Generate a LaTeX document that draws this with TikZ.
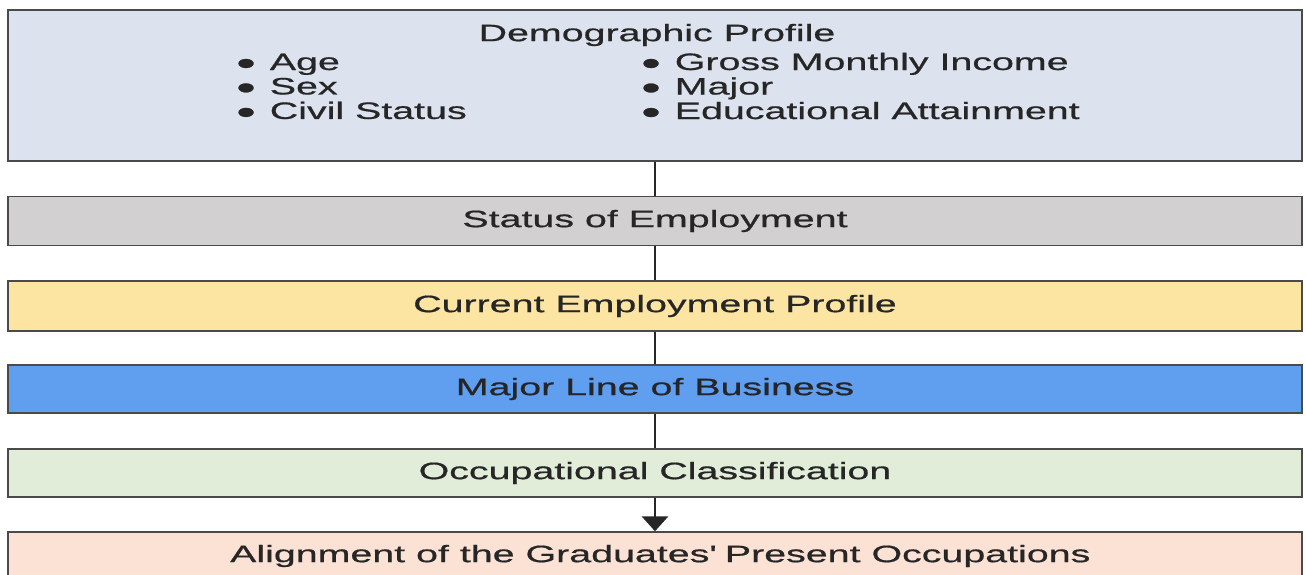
\documentclass[tikz,border=0pt]{standalone}
\usepackage{fontspec}
\setmainfont[FakeStretch=1.66, FakeBold=0.7]{Liberation Sans}
\usepackage{tikz}
\usepackage{xcolor}
\usetikzlibrary{arrows, arrows.meta, positioning}

\definecolor{demoblue}{HTML}{DCE3EF}
\definecolor{statgray}{HTML}{D3D0D1}
\definecolor{curyellow}{HTML}{FCE4A2}
\definecolor{majblue}{HTML}{609EF0}
\definecolor{occgreen}{HTML}{E1EDD8}
\definecolor{alipeach}{HTML}{FBE2D5}
\definecolor{edgegray}{HTML}{4A4A4A}
\definecolor{inkgray}{HTML}{262626}

\newcommand{\listdot}{\raisebox{-2.6pt}{\fontsize{19}{19}\selectfont •}}

\begin{document}
\begin{tikzpicture}[x=0.02cm, y=-0.02cm,
        stage/.style={draw=edgegray, line width=0.9pt, minimum width=25.88cm, inner sep=0pt,
                      text=inkgray, font=\fontsize{13.5}{13.9}\selectfont},
        label/.style={inner sep=0pt, text=inkgray, font=\fontsize{13.5}{13.9}\selectfont},
        link/.style={draw=black!85, line width=1.4pt}]
                        \useasboundingbox (0, 0) rectangle (1306, 575);
                        \node[stage, fill=demoblue, minimum height=3.02cm] (demo) at (655, 85.5) {};
                        \node[stage, fill=statgray, minimum height=0.98cm] (stat) at (655, 221) {Status of Employment};
                        \node[stage, fill=curyellow, minimum height=1cm] (curr) at (655, 306) {Current Employment Profile};
                        \node[stage, fill=majblue, minimum height=0.96cm] (maj) at (655, 389) {Major Line of Business};
                        \node[stage, fill=occgreen, minimum height=0.96cm] (occ) at (655, 473) {Occupational Classification};
                        \node[stage, fill=alipeach, minimum height=0.96cm] (ali) at (655, 556) {\hspace{6pt}Alignment of the Graduates\textquotesingle\ Present Occupations};
                        \node[label] (demot) at (657, 35) {Demographic Profile};
                        \node[label, anchor=base west] (demol) at (236, 70)
                        {\begin{tabular}[t]{@{}l@{\hspace{8pt}}l@{}}
                        \listdot & Age\\
                        \listdot & Sex\\
                        \listdot & Civil Status
                        \end{tabular}};
                        \node[label, anchor=base west] (demor) at (641, 70)
                        {\begin{tabular}[t]{@{}l@{\hspace{8pt}}l@{}}
                        \listdot & Gross Monthly Income\\
                        \listdot & Major\\
                        \listdot & Educational Attainment
                        \end{tabular}};
                        \draw[link]
                        (demo) -- (stat)
                        (stat) -- (curr)
                        (curr) -- (maj)
                        (maj) -- (occ);
                        \draw[link, -{Triangle[width=15pt, length=8.5pt]}] (occ) -- (ali);
                    \end{tikzpicture}
\end{document}
